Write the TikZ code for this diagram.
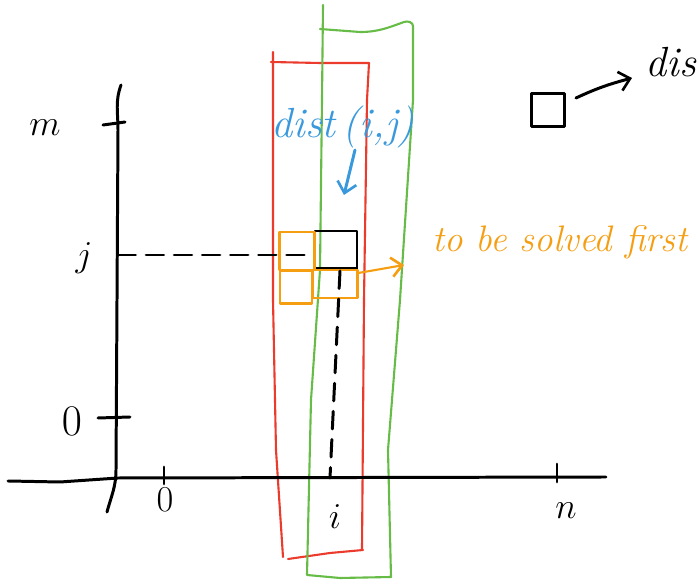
\documentclass[tikz,border=0pt]{standalone}
\usetikzlibrary{arrows.meta}
\definecolor{penred}{HTML}{EA3B2C}
\definecolor{pengreen}{HTML}{66BC46}
\definecolor{penblue}{HTML}{3A99DD}
\definecolor{penorange}{HTML}{F59E12}
\tikzset{
  pen/.style={line width=1.7pt, line cap=round, line join=round},
  thinpen/.style={line width=1.2pt, line cap=round, line join=round},
  lab/.style={inner sep=0pt, font=\fontsize{20}{22}\selectfont},
  barb/.style={-{Straight Barb[length=6pt,width=11pt,line width=1.5pt]}},
  cellbox/.style={draw, pen, inner sep=0pt},
  obox/.style={draw=penorange, thinpen, inner sep=0pt},
  dashpen/.style={pen, dash pattern=on 10pt off 6pt}
}
\begin{document}
\begin{tikzpicture}[x=0.02cm,y=-0.02cm]
\useasboundingbox (0,0) rectangle (698,584);
\clip (0,0) rectangle (698,584);

% red strip
\draw[penred, thinpen] (273,52) -- (273,300) -- (276,450) -- (283,557);
\draw[penred, thinpen] (271,62) -- (320,63) -- (369,63) -- (367,100) -- (364,300) -- (362,550);
\draw[penred, thinpen] (288,559) -- (330,553) -- (363,550);

% green strip
\draw[pengreen, thinpen] (323,5) -- (322,100) -- (320,270) -- (311,400) -- (307,575) -- (340,578) -- (391,577) -- (388,450) -- (400,300) -- (413,100) -- (413,26) to[out=90,in=20] (404,22) to[out=-160,in=0] (360,32) -- (320,29);

% axes
\draw[pen] (121,85) to[out=-110,in=90] (118,130) -- (116,470) to[out=-90,in=75] (107,512);
\draw[pen] (8,481) -- (60,482) -- (118,478) -- (606,477);
\draw[pen] (103,125) -- (125,122);
\draw[pen] (98,418) -- (130,417);
\draw[pen] (164,467) -- (164,484);
\draw[pen] (557,464) -- (557,482);

\node[lab] (lm) at (45,128) {$m$};
\node[lab] (lj) at (84,258) {$j$};
\node[lab, font=\fontsize{24}{26}\selectfont] (lzy) at (72,421) {$0$};
\node[lab] (lzx) at (165,500) {$0$};
\node[lab] (li) at (335,517) {$i$};
\node[lab] (ln) at (566,511) {$n$};

% cells
\node[cellbox, minimum width=0.84cm, minimum height=0.76cm] (cell) at (336,250) {};
\node[obox, minimum width=0.70cm, minimum height=0.76cm] (otl) at (297,251) {};
\node[obox, minimum width=0.64cm, minimum height=0.66cm] (obl) at (296,287) {};
\node[obox, minimum width=0.90cm, minimum height=0.56cm] (obr) at (335,284) {};

% dashed projections
\coordinate (jt) at (118,255);
\coordinate (ib) at (330,478);
\draw[dashpen] (jt) -- (cell.west |- jt);
\draw[dashpen] (340,271) -- (ib);

% dist(i,j) label
\node[lab, text=penblue, font=\fontsize{24}{26}\selectfont\itshape] (dist) at (343,127) {dist$\,$(i,j)};
\coordinate (distend) at (344,195);
\draw[penblue, pen, barb] (355,150) -- (distend);

% to be solved first
\node[lab, text=penorange, anchor=base west, font=\fontsize{21}{23}\selectfont\itshape] (first) at (432,252) {to be solved first};
\coordinate (oend) at (404,265);
\draw[penorange, thinpen, barb] (obr.north east) ++(0,4) -- (oend);

% legend
\node[cellbox, minimum width=0.66cm, minimum height=0.66cm] (legbox) at (548,110) {};
\node[lab, anchor=base west, font=\fontsize{24}{26}\selectfont\itshape] (legd) at (645,77) {dis};
\draw[pen, barb] (legbox.east) ++(10,-12) to[out=25,in=195] (632,78);
\end{tikzpicture}
\end{document}
